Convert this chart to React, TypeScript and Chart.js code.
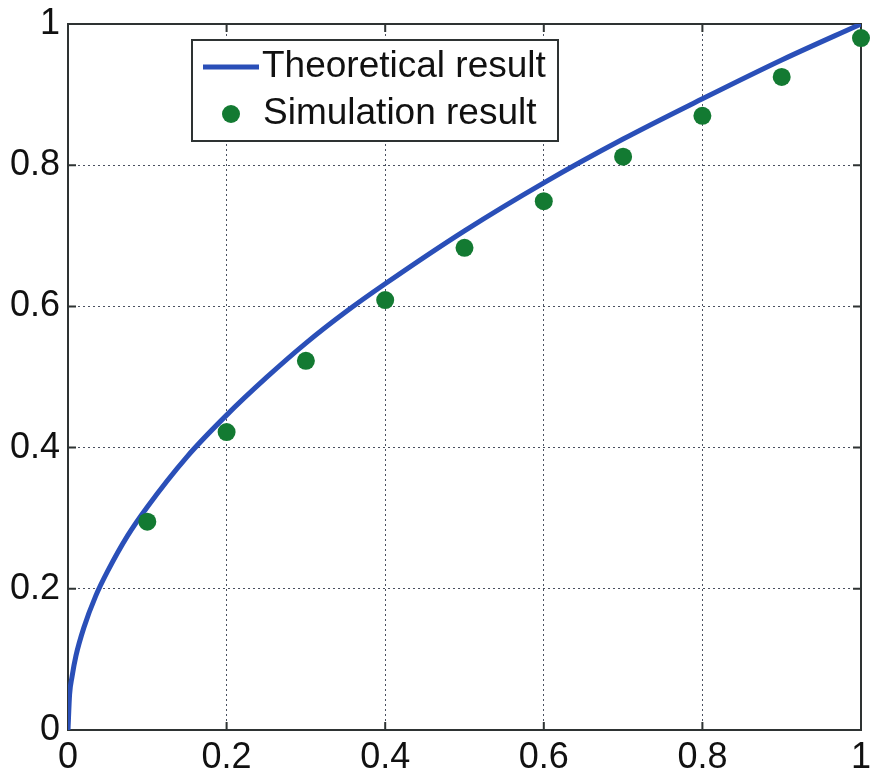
import React, { useEffect, useRef } from "react";
import { Chart, registerables } from "chart.js";
Chart.register(...registerables);

const theoryX = [0, 0.002, 0.005, 0.01, 0.02, 0.035, 0.05, 0.075, 0.1, 0.15, 0.2, 0.25, 0.3, 0.35, 0.4, 0.5, 0.6, 0.7, 0.8, 0.9, 1.0];
const theoryY = [0, 0.05, 0.075, 0.105, 0.145, 0.19, 0.225, 0.275, 0.316, 0.387, 0.446, 0.499, 0.548, 0.592, 0.632, 0.707, 0.775, 0.837, 0.894, 0.949, 1.0];
const simX = [0.1, 0.2, 0.3, 0.4, 0.5, 0.6, 0.7, 0.8, 0.9, 1.0];
const simY = [0.295, 0.422, 0.523, 0.609, 0.683, 0.749, 0.812, 0.87, 0.925, 0.98];
const tickValues = [0, 0.2, 0.4, 0.6, 0.8, 1];
const tickLabels = ["0", "0.2", "0.4", "0.6", "0.8", "1"];
const legendLabels = ["Theoretical result", "Simulation result"];

const FONT = '"Liberation Sans", Arial, sans-serif';
const BLUE = "#2a4fb8";
const GREEN = "#137a32";
const FRAME = "#2e3333";

const framePlugin = {
  id: "frameTicks",
  beforeDatasetsDraw(chart: any) {
    const { ctx, chartArea: a, scales } = chart;
    ctx.save();
    ctx.strokeStyle = FRAME;
    ctx.lineWidth = 2;
    ctx.strokeRect(a.left, a.top, a.right - a.left, a.bottom - a.top);
    const L = 8;
    ctx.beginPath();
    tickValues.forEach((v) => {
      const x = scales.x.getPixelForValue(v);
      ctx.moveTo(x, a.bottom);
      ctx.lineTo(x, a.bottom - L);
      ctx.moveTo(x, a.top);
      ctx.lineTo(x, a.top + L);
      const y = scales.y.getPixelForValue(v);
      ctx.moveTo(a.left, y);
      ctx.lineTo(a.left + L, y);
      ctx.moveTo(a.right, y);
      ctx.lineTo(a.right - L, y);
    });
    ctx.stroke();
    ctx.restore();
  },
  afterDraw(chart: any) {
    const { ctx } = chart;
    ctx.save();
    ctx.fillStyle = "#ffffff";
    ctx.fillRect(192, 40, 366, 101);
    ctx.strokeStyle = FRAME;
    ctx.lineWidth = 2;
    ctx.strokeRect(192, 40, 366, 101);
    ctx.strokeStyle = BLUE;
    ctx.lineWidth = 5;
    ctx.beginPath();
    ctx.moveTo(203, 67);
    ctx.lineTo(259, 67);
    ctx.stroke();
    ctx.fillStyle = GREEN;
    ctx.beginPath();
    ctx.arc(231, 114, 9, 0, Math.PI * 2);
    ctx.fill();
    ctx.fillStyle = "#111111";
    ctx.font = `37px ${FONT}`;
    ctx.textBaseline = "middle";
    ctx.textAlign = "left";
    ctx.fillText(legendLabels[0], 262, 67);
    ctx.fillText(legendLabels[1], 263, 114);
    ctx.restore();
  },
};

export default function App() {
  const ref = useRef<HTMLCanvasElement>(null);
  useEffect(() => {
    if (!ref.current) return;
    const chart = new Chart(ref.current, {
      type: "scatter",
      data: {
        datasets: [
          {
            label: legendLabels[0],
            data: theoryX.map((x, i) => ({ x, y: theoryY[i] })),
            showLine: true,
            borderColor: BLUE,
            borderWidth: 5,
            pointRadius: 0,
            cubicInterpolationMode: "monotone",
            order: 2,
          },
          {
            label: legendLabels[1],
            data: simX.map((x, i) => ({ x, y: simY[i] })),
            showLine: false,
            backgroundColor: GREEN,
            borderColor: GREEN,
            pointRadius: 9,
            borderWidth: 0,
            clip: false,
            order: 1,
          },
        ],
      },
      options: {
        animation: false,
        responsive: false,
        maintainAspectRatio: false,
        layout: { padding: { top: 24, right: 8, left: 0, bottom: 0 } },
        plugins: { legend: { display: false }, tooltip: { enabled: false } },
        scales: {
          x: {
            type: "linear",
            min: 0,
            max: 1,
            afterBuildTicks: (s: any) => {
              s.ticks = tickValues.map((v) => ({ value: v }));
            },
            afterFit: (s: any) => {
              s.height = 47;
              s.paddingLeft = 0;
              s.paddingRight = 0;
            },
            ticks: {
              callback: (_v: any, i: number) => tickLabels[i],
              font: { family: FONT, size: 36 },
              color: "#111111",
              padding: 6,
              maxRotation: 0,
              autoSkip: false,
            },
            grid: { color: "#4a5060", lineWidth: 1, drawTicks: false },
            border: { display: false, dash: [2, 3] },
          },
          y: {
            type: "linear",
            min: 0,
            max: 1,
            afterBuildTicks: (s: any) => {
              s.ticks = tickValues.map((v) => ({ value: v }));
            },
            afterFit: (s: any) => {
              s.width = 68;
              s.paddingTop = 0;
              s.paddingBottom = 0;
            },
            ticks: {
              callback: (_v: any, i: number) => tickLabels[i],
              font: { family: FONT, size: 36 },
              color: "#111111",
              padding: 8,
              autoSkip: false,
            },
            grid: { color: "#4a5060", lineWidth: 1, drawTicks: false },
            border: { display: false, dash: [2, 3] },
          },
        },
      },
      plugins: [framePlugin],
    });
    return () => chart.destroy();
  }, []);
  return (
    <div style={{ position: "absolute", left: 0, top: 0, width: 870, height: 777, background: "#fff" }}>
      <canvas ref={ref} width={870} height={777} style={{ display: "block" }} />
    </div>
  );
}
